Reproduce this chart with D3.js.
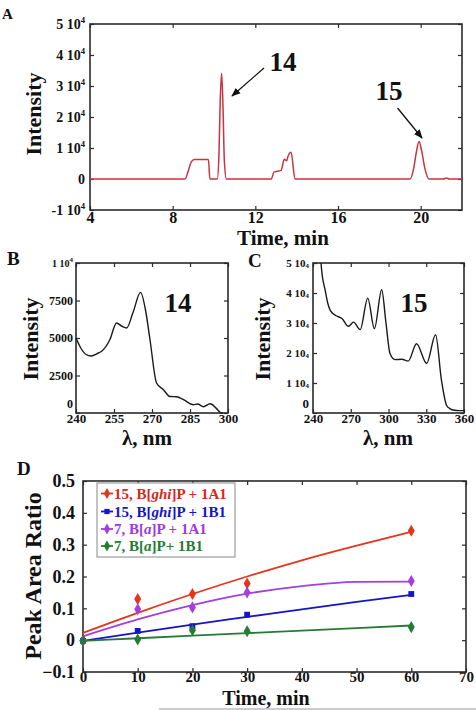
<!DOCTYPE html>
<html>
<head>
<meta charset="utf-8">
<script src="https://cdn.jsdelivr.net/npm/d3@7"></script>
<style>
  html, body { margin: 0; padding: 0; background: #fff; }
  svg { display: block; }
  text { font-family: "Liberation Serif", "Times New Roman", serif; font-weight: bold; fill: #111; }
</style>
</head>
<body>
<svg id="chart" width="476" height="710"></svg>
<script>
// ---------------- DATA ----------------
// Panel A: chromatogram
const chromTime = [4, 8.6, 8.75, 8.9, 9.05, 9.73, 9.8, 10.16, 10.24, 10.3, 10.37, 10.44, 10.5, 10.6, 12.77, 12.9, 13.25, 13.4, 13.52, 13.57, 13.73, 13.92, 19.49, 19.65, 19.8, 19.92, 20.05, 20.2, 20.4, 21.1, 21.23, 21.4, 22];
const chromIntensity = [0, 0, 2500, 5500, 6300, 6300, 0, 0, 8000, 25000, 34100, 22000, 6000, 0, 0, 2200, 2800, 6400, 5900, 7100, 8600, 0, 0, 3000, 9000, 12100, 9000, 3500, 0, 0, 300, 0, 0];
const chromXTicks = [4, 8, 12, 16, 20];
const chromYTicks = [-1e4, 0, 1e4, 2e4, 3e4, 4e4, 5e4];

// Panel B: UV spectrum of 14
const specBWavelength = [240, 242, 244, 246, 248.8, 250, 253.4, 256, 258, 260, 262.5, 265.5, 267.5, 269.2, 271.8, 274.5, 277.1, 279.7, 282.4, 286.3, 288, 290.3, 293, 295.5, 297.4, 298];
const specBIntensity = [5000, 4300, 3900, 3800, 4000, 4100, 4900, 6000, 5800, 5670, 6700, 8040, 6800, 4900, 2000, 1550, 1100, 1080, 890, 550, 600, 420, 620, 290, 0, 0];
const specBXTicks = [240, 255, 270, 285, 300];
const specBYTicks = [0, 2500, 5000, 7500, 10000];

// Panel C: UV spectrum of 15
const specCWavelength = [245.5, 247, 249.7, 251.5, 253.7, 257.7, 263, 268.2, 272.2, 277.5, 283.5, 288.8, 294.6, 298, 301.2, 305.2, 310.5, 315.7, 322.3, 330.3, 337.4, 342.1, 346.1, 349, 352.7, 356, 360];
const specCIntensity = [55000, 47000, 40900, 37000, 34200, 32600, 31500, 28900, 30300, 27800, 38300, 28100, 41100, 30000, 19800, 17800, 17900, 17300, 23100, 16500, 26100, 10900, 2600, 1400, 900, 800, 800];
const specCXTicks = [240, 270, 300, 330, 360];
const specCYTicks = [0, 1e4, 2e4, 3e4, 4e4, 5e4];

// Panel D: peak area ratio vs time
const ratioTimes = [0, 10, 20, 30, 60];
const ghi1A1 = [-0.002, 0.129, 0.145, 0.178, 0.344];
const ghi1B1 = [-0.002, 0.029, 0.044, 0.080, 0.145];
const bap1A1 = [-0.002, 0.097, 0.103, 0.150, 0.186];
const bap1B1 = [-0.002, 0.002, 0.031, 0.028, 0.041];
const fitTimes = [0, 10, 20, 30, 40, 50, 60];
const ghi1A1Fit = [0.023, 0.086, 0.145, 0.200, 0.251, 0.297, 0.340];
const ghi1B1Fit = [-0.002, 0.024, 0.049, 0.073, 0.097, 0.120, 0.142];
const bap1A1Fit = [0.012, 0.065, 0.110, 0.146, 0.170, 0.183, 0.184];
const bap1B1Fit = [-0.002, 0.006, 0.014, 0.022, 0.030, 0.038, 0.046];
const ratioXTicks = [0, 10, 20, 30, 40, 50, 60, 70];
const ratioYTicks = [-0.1, 0, 0.1, 0.2, 0.3, 0.4, 0.5];
const seriesNames = ["15, B[ghi]P + 1A1", "15, B[ghi]P + 1B1", "7, B[a]P + 1A1", "7, B[a]P+ 1B1"];

// ---------------- DRAWING ----------------
const svg = d3.select("#chart");
const FRAME = "#2a2a2a";

function frame(g, x, y, opts) {
  const [x0, x1] = x.range();
  const [y0, y1] = y.range(); // y0 bottom, y1 top
  const t = opts.tick || 4;
  const bx = g.append("g").attr("transform", `translate(0,${y0})`)
    .call(d3.axisBottom(x).tickValues(opts.xTicks).tickSize(-t).tickPadding(opts.xPad ?? 3).tickFormat(opts.xFmt || d3.format("d")));
  bx.selectAll("text").style("font-size", opts.xFont + "px").attr("fill", "#111");
  g.append("g").attr("transform", `translate(0,${y1})`)
    .call(d3.axisTop(x).tickValues(opts.xTicks).tickSize(-t).tickFormat(""));
  const ly = g.append("g").attr("transform", `translate(${x0},0)`)
    .call(d3.axisLeft(y).tickValues(opts.yTicks).tickSize(-t).tickPadding(opts.yPad ?? 4).tickFormat(opts.yFmt || (d => d)));
  ly.selectAll("text").style("font-size", opts.yFont + "px").attr("fill", "#111");
  g.append("g").attr("transform", `translate(${x1},0)`)
    .call(d3.axisRight(y).tickValues(opts.yTicks).tickSize(-t).tickFormat(""));
  g.selectAll(".domain").remove();
  g.selectAll(".tick line").attr("stroke", FRAME).attr("stroke-width", 1.2);
  g.append("rect").attr("x", x0).attr("y", y1).attr("width", x1 - x0).attr("height", y0 - y1)
    .attr("fill", "none").attr("stroke", FRAME).attr("stroke-width", 1.6);
  return { bx, ly };
}

function sciLabels(axisG, mode, size) {
  axisG.selectAll(".tick text").each(function (d) {
    const el = d3.select(this);
    if (d === 0) { el.text("0"); return; }
    const m = Math.round(d / 1e4);
    el.text(null);
    el.append("tspan").text(m + " 10");
    if (mode === "sup") {
      el.append("tspan").attr("dy", -size * 0.45).style("font-size", (size * 0.62) + "px").text("4");
    } else {
      el.append("tspan").attr("dy", size * 0.1).style("font-size", (size * 0.62) + "px").text("4");
    }
  });
}

function ylabel(text, x, y, size) {
  svg.append("text").attr("transform", `translate(${x},${y}) rotate(-90)`)
    .attr("text-anchor", "middle").attr("dominant-baseline", "central")
    .style("font-size", size + "px").text(text);
}
function label(text, x, y, size, anchor) {
  return svg.append("text").attr("x", x).attr("y", y).attr("text-anchor", anchor || "middle")
    .style("font-size", size + "px").text(text);
}

svg.append("defs").append("marker").attr("id", "arrow")
  .attr("viewBox", "0 0 10 10").attr("refX", 9).attr("refY", 5)
  .attr("markerWidth", 7).attr("markerHeight", 7).attr("orient", "auto")
  .append("path").attr("d", "M0,1 L10,5 L0,9 z").attr("fill", "#111");

// ---------- Panel A ----------
{
  const x = d3.scaleLinear().domain([4, 22]).range([90, 462]);
  const y = d3.scaleLinear().domain([-1e4, 5e4]).range([210, 24]);
  const g = svg.append("g");
  const { ly } = frame(g, x, y, { xTicks: chromXTicks, yTicks: chromYTicks, xFont: 16, yFont: 14, xPad: 2, yPad: 5 });
  sciLabels(ly, "sup", 14);
  ly.selectAll(".tick text").filter(d => d < 0).each(function (d) {
    const el = d3.select(this);
    el.text(null);
    el.append("tspan").text("-1 10");
    el.append("tspan").attr("dy", -14 * 0.45).style("font-size", (14 * 0.62) + "px").text("4");
  });
  const line = d3.line().x((d, i) => x(chromTime[i])).y(d => y(d)).curve(d3.curveMonotoneX);
  g.append("path").datum(chromIntensity).attr("d", line)
    .attr("fill", "none").attr("stroke", "#c9333d").attr("stroke-width", 1.5);
  ylabel("Intensity", 33, 114, 22);
  label("Time, min", 283, 245, 21);
  label("A", 2, 19, 15, "start");
  label("14", 283, 71, 27);
  label("15", 389, 100, 27);
  svg.append("line").attr("x1", 264).attr("y1", 68).attr("x2", 232).attr("y2", 96)
    .attr("stroke", "#111").attr("stroke-width", 1.3).attr("marker-end", "url(#arrow)");
  svg.append("line").attr("x1", 397.5).attr("y1", 108).attr("x2", 422).attr("y2", 138)
    .attr("stroke", "#111").attr("stroke-width", 1.3).attr("marker-end", "url(#arrow)");
}

// ---------- Panel B ----------
{
  const x = d3.scaleLinear().domain([240, 300]).range([76, 228]);
  const y = d3.scaleLinear().domain([0, 10000]).range([413, 263]);
  const g = svg.append("g");
  const { ly } = frame(g, x, y, { xTicks: specBXTicks, yTicks: specBYTicks, xFont: 13, yFont: 12, xPad: 1, yPad: 3 });
  ly.selectAll(".tick text").each(function (d) {
    const el = d3.select(this);
    if (d === 10000) {
      el.text(null).style("font-size", "10px");
      el.append("tspan").text("1 10");
      el.append("tspan").attr("dy", -5).style("font-size", "7px").text("4");
    }
    if (d === 0) el.attr("dy", "-0.45em");
  });
  const line = d3.line().x((d, i) => x(specBWavelength[i])).y(d => y(d)).curve(d3.curveMonotoneX);
  g.append("path").datum(specBIntensity).attr("d", line)
    .attr("fill", "none").attr("stroke", "#1a1a1a").attr("stroke-width", 1.4);
  ylabel("Intensity", 30, 339, 22);
  label("λ, nm", 147, 445, 21);
  label("B", 7, 265, 19, "start");
  label("14", 178, 312, 27);
}

// ---------- Panel C ----------
{
  const x = d3.scaleLinear().domain([240, 360]).range([313, 464]);
  const y = d3.scaleLinear().domain([0, 5e4]).range([413, 263]);
  const g = svg.append("g");
  const { ly } = frame(g, x, y, { xTicks: specCXTicks, yTicks: specCYTicks, xFont: 13, yFont: 11, xPad: 1, yPad: 4 });
  sciLabels(ly, "sub", 11);
  ly.selectAll(".tick text").filter(d => d === 0).attr("dy", "-0.45em").style("font-size", "13px");
  const clipId = "clipC";
  svg.append("clipPath").attr("id", clipId).append("rect").attr("x", 313).attr("y", 263).attr("width", 151).attr("height", 150);
  const line = d3.line().x((d, i) => x(specCWavelength[i])).y(d => y(d)).curve(d3.curveMonotoneX);
  g.append("path").datum(specCIntensity).attr("d", line).attr("clip-path", `url(#${clipId})`)
    .attr("fill", "none").attr("stroke", "#1a1a1a").attr("stroke-width", 1.4);
  ylabel("Intensity", 262, 339, 22);
  label("λ, nm", 388, 445, 21);
  label("C", 248, 267, 19, "start");
  label("15", 414, 312, 27);
}

// ---------- Panel D ----------
{
  const x = d3.scaleLinear().domain([0, 70]).range([83, 466]);
  const y = d3.scaleLinear().domain([-0.1, 0.5]).range([672, 481]);
  const g = svg.append("g");
  frame(g, x, y, { xTicks: ratioXTicks, yTicks: ratioYTicks, xFont: 15, yFont: 18, xPad: -1, yPad: 8,
    yFmt: d => (Math.abs(d) < 1e-9 ? "0" : d3.format(".1f")(d)) });
  const colors = ["#e2351c", "#1414c8", "#a33ee0", "#257a35"];
  const textColors = ["#d8261a", "#1414c8", "#9d3bdc", "#257a35"];
  const pts = [ghi1A1, ghi1B1, bap1A1, bap1B1];
  const fits = [ghi1A1Fit, ghi1B1Fit, bap1A1Fit, bap1B1Fit];
  const symbols = [d3.symbolDiamond, d3.symbolSquare, d3.symbolDiamond, d3.symbolDiamond];
  const symSize = [42, 34, 42, 42];
  const line = d3.line().x((d, i) => x(fitTimes[i])).y(d => y(d)).curve(d3.curveMonotoneX);
  fits.forEach((f, k) => {
    g.append("path").datum(f).attr("d", line).attr("fill", "none")
      .attr("stroke", colors[k]).attr("stroke-width", 1.8);
  });
  pts.forEach((p, k) => {
    g.selectAll(null).data(p).enter().append("path")
      .attr("transform", (d, i) => `translate(${x(ratioTimes[i])},${y(d)})`)
      .attr("d", d3.symbol().type(symbols[k]).size(symSize[k]))
      .attr("fill", colors[k]);
  });
  const lg = svg.append("g");
  lg.append("rect").attr("x", 97).attr("y", 483).attr("width", 138).attr("height", 74)
    .attr("fill", "#fff").attr("stroke", "#888").attr("stroke-width", 1);
  const rowsY = [493.5, 511.5, 529, 546];
  const parts = [
    [["15, B[", false], ["ghi", true], ["]P + 1A1", false]],
    [["15, B[", false], ["ghi", true], ["]P + 1B1", false]],
    [["7, B[", false], ["a", true], ["]P + 1A1", false]],
    [["7, B[", false], ["a", true], ["]P+ 1B1", false]]
  ];
  rowsY.forEach((ry, k) => {
    lg.append("line").attr("x1", 101).attr("x2", 113).attr("y1", ry).attr("y2", ry)
      .attr("stroke", colors[k]).attr("stroke-width", 1.8);
    lg.append("path").attr("transform", `translate(107,${ry})`)
      .attr("d", d3.symbol().type(symbols[k]).size(symSize[k] * 0.8)).attr("fill", colors[k]);
    const t = lg.append("text").attr("x", 114).attr("y", ry).attr("dominant-baseline", "central")
      .style("font-size", "15px").style("fill", textColors[k]).attr("data-series", seriesNames[k]);
    parts[k].forEach(([s, it]) => {
      t.append("tspan").text(s).style("font-style", it ? "italic" : "normal").style("fill", textColors[k]);
    });
  });
  ylabel("Peak Area Ratio", 33, 576, 24);
  label("Time, min", 266, 705, 20);
  label("D", 17, 475, 19, "start");
  svg.append("line").attr("x1", 159).attr("x2", 476).attr("y1", 709).attr("y2", 709)
    .attr("stroke", "#999").attr("stroke-width", 1);
}
</script>
</body>
</html>
